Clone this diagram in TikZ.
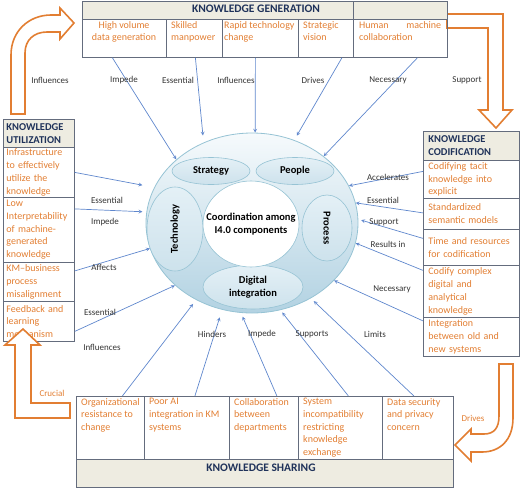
\documentclass[tikz,border=0pt]{standalone}
\usepackage{fontspec}
\setmainfont{Carlito}
\usetikzlibrary{shapes.geometric}

\definecolor{kmorange}{RGB}{226,126,50}
\definecolor{navy}{RGB}{31,50,90}
\definecolor{headfill}{RGB}{238,236,225}
\definecolor{cellgray}{RGB}{100,108,125}
\definecolor{linkblue}{RGB}{95,135,205}
\definecolor{rimblue}{RGB}{150,195,212}
\definecolor{spheretop}{RGB}{246,250,252}
\definecolor{spherebot}{RGB}{178,210,226}
\definecolor{parttop}{RGB}{228,240,246}
\definecolor{partbot}{RGB}{205,226,236}

\begin{document}
\begin{tikzpicture}[x=1pt, y=-1pt, >=stealth, every node/.style={inner sep=0pt}]
\tikzset{
  cell/.style={draw=cellgray, line width=.8pt, rectangle, anchor=north west},
  headcell/.style={cell, fill=headfill, text=navy, font=\bfseries\fontsize{11.5}{13}\selectfont},
  title/.style={text=navy, font=\bfseries\fontsize{11.5}{13}\selectfont},
  sidehead/.style={headcell, align=left, inner xsep=3pt, font=\bfseries\fontsize{10.5}{13}\selectfont},
  sideitem/.style={cell, text=kmorange, align=left, font=\fontsize{10}{12.7}\selectfont},
  item/.style={anchor=north west, text=kmorange, align=left, font=\fontsize{10}{12.7}\selectfont},
  tag/.style={text=black!80, font=\fontsize{9}{10}\selectfont},
  link/.style={->, draw=linkblue, line width=.7pt},
  part/.style={ellipse, draw=rimblue, line width=.6pt, top color=parttop, bottom color=partbot,
    align=center, font=\bfseries\fontsize{10.5}{13}\selectfont},
  bent/.style={draw=kmorange, line width=1.6pt, fill=white, line join=miter}
}
\useasboundingbox (0,0) rectangle (520,488);

% orange flow arrows behind the boxes
\draw[bent] (11,114) -- (11,55) .. controls (11,31) and (29,15) .. (51,15) -- (60,15) -- (60,8) -- (74,23)
  -- (60,39) -- (60,32) -- (47,32) .. controls (34,32) and (25,40) .. (25,53) -- (25,114) -- cycle;
\draw[bent] (447,14) -- (503,14) -- (503,110) -- (512,110) -- (496,128) -- (479,110) -- (488,110)
  -- (488,28) -- (447,28) -- cycle;
\draw[bent] (499,364) -- (513,364) -- (513,418) .. controls (513,440) and (500,452) .. (482,452) -- (471,452)
  -- (471,461) -- (455,445) -- (471,429) -- (471,434) -- (484,434) .. controls (494,434) and (499,428) .. (499,416) -- cycle;

% sphere
\node[ellipse, draw=rimblue, line width=.8pt, top color=spheretop, bottom color=spherebot,
  minimum width=212pt, minimum height=180pt] (hub) at (252,223) {};
\node[part, minimum width=78pt, minimum height=27pt] (strategy) at (211,171) {Strategy};
\node[part, minimum width=78pt, minimum height=27pt] (people) at (295,171) {People};
\node[part, rotate=90, minimum width=84pt, minimum height=56pt] (techno) at (175,229) {Technology};
\node[part, rotate=-90, minimum width=66pt, minimum height=50pt] (process) at (327,228) {Process};
\node[part, minimum width=100pt, minimum height=44pt] (digital) at (253,287) {Digital\\integration};
\node[ellipse, draw=rimblue, line width=.6pt, fill=white, minimum width=96pt, minimum height=86pt] (core) at (251,224) {};
\node[align=center, font=\bfseries\fontsize{10.5}{12.5}\selectfont] (coretext) at (core.center) {Coordination among\\I4.0 components};

% knowledge generation
\node[headcell, minimum width=271pt, minimum height=18pt] (genhead) at (82,1) {};
\node[headcell, minimum width=94pt, minimum height=18pt] (genhead2) at (353,1) {};
\node[title] (gentitle) at (256,9) {KNOWLEDGE GENERATION};
\node[cell, minimum width=84pt, minimum height=38pt] (gen1) at (82,19) {};
\node[cell, minimum width=56pt, minimum height=38pt] (gen2) at (166,19) {};
\node[cell, minimum width=76pt, minimum height=38pt] (gen3) at (222,19) {};
\node[cell, minimum width=55pt, minimum height=38pt] (gen4) at (298,19) {};
\node[cell, minimum width=94pt, minimum height=38pt] (gen5) at (353,19) {};
\node[item, anchor=north, align=center] (gen1t) at (124,21) {High volume\\data generation};
\node[item] (gen2t) at (171,21) {Skilled\\manpower};
\node[item] (gen3t) at (224,21) {Rapid technology\\change};
\node[item] (gen4t) at (303,21) {Strategic\\vision};
\node[item, text width=82pt] (gen5t) at (359,21) {Human\hfill machine\\collaboration};

% knowledge utilization
\node[sidehead, text width=65pt, minimum height=28pt] (usehead) at (3,119) {KNOWLEDGE\\UTILIZATION};
\node[sideitem, text width=65pt, inner xsep=3pt, minimum height=50pt] (use1) at (3,147) {Infrastructure\\to effectively\\utilize the\\knowledge};
\node[sideitem, text width=65pt, inner xsep=3pt, minimum height=65pt] (use2) at (3,197) {Low\\Interpretability\\of machine-\\generated\\knowledge};
\node[sideitem, text width=65pt, inner xsep=3pt, minimum height=39pt] (use3) at (3,262) {KM--business\\process\\misalignment};
\node[sideitem, text width=65pt, inner xsep=3pt, minimum height=40pt] (use4) at (3,301) {Feedback and\\learning\\mechanism};

% knowledge codification
\node[sidehead, text width=86pt, inner xsep=5pt, minimum height=29pt] (codhead) at (423,131) {KNOWLEDGE\\CODIFICATION};
\node[sideitem, text width=86pt, inner xsep=5pt, minimum height=38pt] (cod1) at (423,160) {Codifying tacit\\knowledge into\\explicit};
\node[sideitem, text width=86pt, inner xsep=5pt, minimum height=31pt] (cod2) at (423,198) {Standardized\\semantic models};
\node[sideitem, text width=86pt, inner xsep=5pt, minimum height=36pt] (cod3) at (423,229) {Time and resources\\for codification\\[4pt]};
\node[sideitem, text width=86pt, inner xsep=5pt, minimum height=52pt] (cod4) at (423,265) {Codify complex\\digital and\\analytical\\knowledge};
\node[sideitem, text width=86pt, inner xsep=5pt, minimum height=39pt] (cod5) at (423,317) {Integration\\between old and\\new systems};

% knowledge sharing
\node[cell, minimum width=68pt, minimum height=63pt] (share1) at (76,396) {};
\node[cell, minimum width=85pt, minimum height=63pt] (share2) at (144,396) {};
\node[cell, minimum width=69pt, minimum height=63pt] (share3) at (229,396) {};
\node[cell, minimum width=84pt, minimum height=63pt] (share4) at (298,396) {};
\node[cell, minimum width=71pt, minimum height=63pt] (share5) at (382,396) {};
\node[headcell, minimum width=377pt, minimum height=28pt] (sharehead) at (76,459) {};
\node[title] (sharetitle) at (261,468) {KNOWLEDGE SHARING};
\node[item] (share1t) at (81,398) {Organizational\\resistance to\\change};
\node[item] (share2t) at (149,398) {Poor AI\\integration in KM\\systems};
\node[item] (share3t) at (234,398) {Collaboration\\between\\departments};
\node[item] (share4t) at (303,398) {System\\incompatibility\\restricting\\knowledge\\exchange};
\node[item] (share5t) at (387,398) {Data security\\and privacy\\concern};

\draw[bent] (15,418) -- (15,345) -- (5,345) -- (23,329) -- (40,345) -- (31,345) -- (31,403) -- (70,403)
  -- (70,418) -- cycle;

% links into the sphere
\draw[link] ([xshift=-12pt]gen1.south) -- (hub.140);
\draw[link, shorten >=7pt] ([xshift=1pt]gen2.south) -- (hub.121);
\draw[link] ([xshift=-5pt]gen3.south) -- (hub.88);
\draw[link, shorten >=5pt] ([xshift=16pt]gen4.south) -- (hub.63);
\draw[link] ([xshift=17pt]gen5.south) -- (hub.43);

\draw[link, shorten >=12pt] (use1.east) -- (hub.160);
\draw[link, shorten >=4pt] ([yshift=21pt]use2.east) -- (hub.174);
\draw[link] ([yshift=11pt]use3.east) -- (hub.194);
\draw[link] ([yshift=-10pt]use4.east) -- (hub.219);

\draw[link] ([yshift=8pt]cod1.west) -- (hub.21);
\draw[link] ([yshift=1pt]cod2.west) -- (hub.11);
\draw[link, shorten >=3pt] ([yshift=9pt]cod3.west) -- (hub.2);
\draw[link] ([yshift=21pt]cod4.west) -- (hub.-11);
\draw[link] ([yshift=16pt]cod5.west) -- (hub.325);

\draw[link, shorten >=5pt] ([xshift=12pt]share1.north) -- (hub.234);
\draw[link, shorten >=8pt] ([xshift=8pt]share2.north) -- (hub.251);
\draw[link, shorten >=4pt] ([xshift=13pt]share3.north) -- (hub.263);
\draw[link, shorten >=3pt] ([xshift=8pt]share4.north) -- (hub.288);
\draw[link, shorten >=4pt] ([xshift=-4pt]share5.north) -- (hub.308);

% labels
\node[tag] (tInfl1) at (50,80) {Influences};
\node[tag] (tImp1) at (124,80) {Impede};
\node[tag] (tEss1) at (178,80) {Essential};
\node[tag] (tInfl2) at (236,80) {Influences};
\node[tag] (tDrv1) at (313,80) {Drives};
\node[tag] (tNec1) at (388,80) {Necessary};
\node[tag] (tSup1) at (467,80) {Support};
\node[tag] (tEss2) at (107,200) {Essential};
\node[tag] (tImp2) at (105,222) {Impede};
\node[tag] (tAff) at (104,267) {Affects};
\node[tag] (tEss3) at (100,312) {Essential};
\node[tag] (tInfl3) at (102,347) {Influences};
\node[tag] (tAcc) at (388,177) {Accelerates};
\node[tag] (tEss4) at (383,200) {Essential};
\node[tag] (tSup2) at (384,222) {Support};
\node[tag] (tRes) at (388,244) {Results in};
\node[tag] (tNec2) at (392,289) {Necessary};
\node[tag] (tLim) at (375,334) {Limits};
\node[tag] (tHin) at (212,334) {Hinders};
\node[tag] (tImp3) at (262,334) {Impede};
\node[tag] (tSup3) at (312,334) {Supports};
\node[tag, text=kmorange] (tCru) at (52,393) {Crucial};
\node[tag, text=kmorange] (tDrv2) at (473,418) {Drives};
\end{tikzpicture}
\end{document}
